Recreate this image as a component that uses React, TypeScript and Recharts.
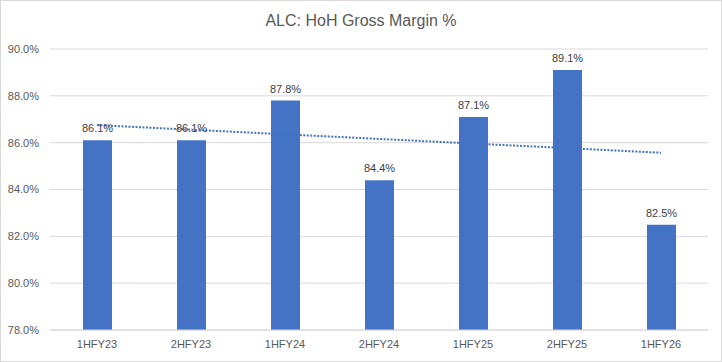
import {
  ComposedChart,
  Bar,
  XAxis,
  YAxis,
  CartesianGrid,
  LabelList,
  ReferenceLine,
} from 'recharts';

const periods = ['1HFY23', '2HFY23', '1HFY24', '2HFY24', '1HFY25', '2HFY25', '1HFY26'];
const grossMargin = [86.1, 86.1, 87.8, 84.4, 87.1, 89.1, 82.5];
const yTicks = [78, 80, 82, 84, 86, 88, 90];
// linear trendline as drawn in the picture (start / end)
const trendStart = 86.75;
const trendEnd = 85.57;

const BLUE = '#4472C4';
const FONT = '"Liberation Sans", Arial, sans-serif';

const data = periods.map((p, i) => ({ period: p, margin: grossMargin[i] }));

const pct = (v: number) => `${v.toFixed(1)}%`;

export default function App() {
  return (
    <div
      style={{
        width: 720,
        height: 360,
        border: '1px solid #d9d9d9',
        background: '#fff',
        position: 'relative',
        fontFamily: FONT,
      }}
    >
      <style>{'body{margin:0}'}</style>
      <div
        style={{
          position: 'absolute',
          top: 11,
          left: 0,
          width: '100%',
          textAlign: 'center',
          fontSize: 16,
          color: '#595959',
        }}
      >
        ALC: HoH Gross Margin %
      </div>
      <ComposedChart
        width={720}
        height={360}
        data={data}
        margin={{ top: 48, right: 13, left: 0, bottom: 0 }}
      >
        <CartesianGrid vertical={false} stroke="#d9d9d9" />
        <XAxis
          dataKey="period"
          height={31}
          tickLine={false}
          tickSize={0}
          tickMargin={10}
          stroke="#d9d9d9"
          tick={{ fill: '#595959', fontSize: 11, fontFamily: FONT }}
        />
        <YAxis
          width={49}
          domain={[78, 90]}
          ticks={yTicks}
          tickFormatter={pct}
          axisLine={false}
          tickLine={false}
          tickSize={0}
          tickMargin={11}
          tick={{ fill: '#595959', fontSize: 11, fontFamily: FONT }}
        />
        <Bar dataKey="margin" fill={BLUE} barSize={29} isAnimationActive={false}>
          <LabelList
            dataKey="margin"
            position="top"
            offset={8}
            formatter={(v: any) => pct(Number(v))}
            style={{ fill: '#404040', fontSize: 11, fontFamily: FONT }}
          />
        </Bar>
        <ReferenceLine
          segment={[
            { x: periods[0], y: trendStart },
            { x: periods[periods.length - 1], y: trendEnd },
          ]}
          stroke={BLUE}
          strokeWidth={2}
          strokeDasharray="2 1.5"
          ifOverflow="visible"
        />
      </ComposedChart>
    </div>
  );
}
